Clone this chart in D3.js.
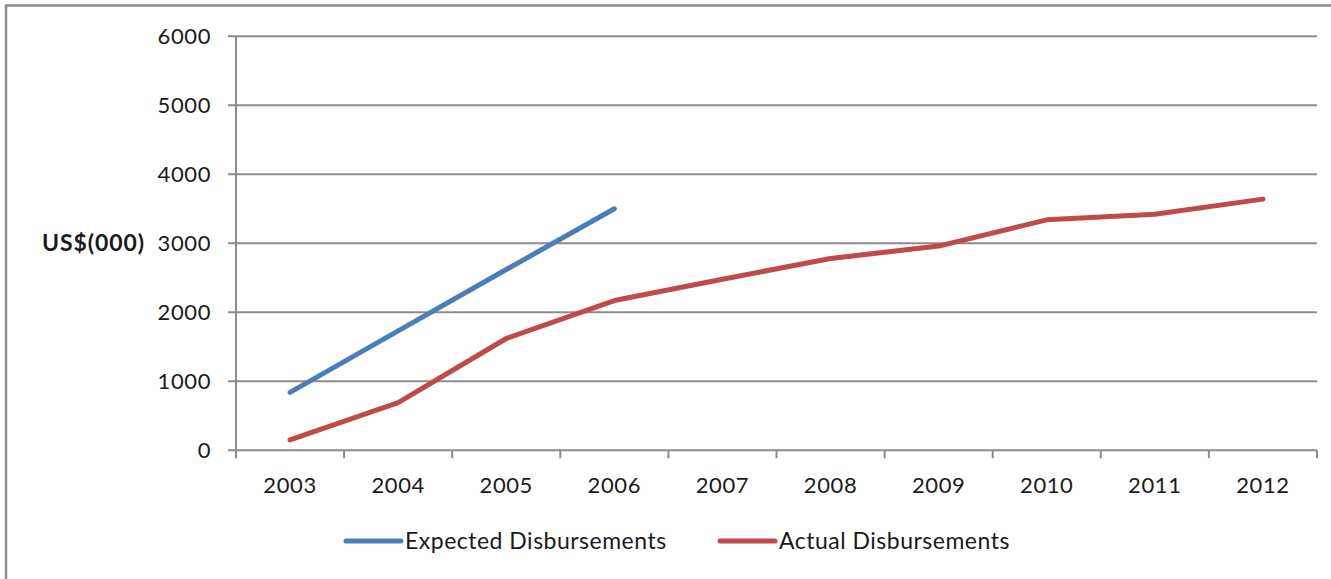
<!DOCTYPE html>
<html>
<head>
<meta charset="utf-8">
<script src="https://cdn.jsdelivr.net/npm/d3@7/dist/d3.min.js"></script>
<style>
html,body{margin:0;padding:0;background:#fff;}
svg{display:block;}
text{font-family:Lato,"Open Sans",sans-serif;fill:#1a1a1a;}
</style>
</head>
<body>
<svg id="chart" width="1331" height="579"></svg>
<script>
const years = ["2003","2004","2005","2006","2007","2008","2009","2010","2011","2012"];
const expectedYears = ["2003","2004","2005","2006"];
const expectedValues = [840, 1730, 2620, 3500];
const actualYears = years;
const actualValues = [150, 690, 1620, 2170, 2480, 2780, 2960, 3340, 3420, 3640];
const yTicks = [0, 1000, 2000, 3000, 4000, 5000, 6000];
const seriesNames = ["Expected Disbursements", "Actual Disbursements"];
const seriesColors = ["#4A7EBB", "#BE4B48"];
const yAxisTitle = "US$(000)";

(function () {
const svg = d3.select("#chart");
const plotLeft = 236, plotRight = 1317, plotTop = 36.3, plotBottom = 450.3;

// outer frame
svg.append("path")
  .attr("d", "M6,579 L6,5.5 L1331,5.5")
  .attr("fill", "none").attr("stroke", "#8c8c8c").attr("stroke-width", 2.5);

const x = d3.scaleBand().domain(years).range([plotLeft, plotRight]).padding(0);
const y = d3.scaleLinear().domain([0, 6000]).range([plotBottom, plotTop]);

// gridlines
svg.append("g").selectAll("line").data(yTicks).join("line")
  .attr("x1", plotLeft - 8).attr("x2", plotRight)
  .attr("y1", d => y(d)).attr("y2", d => y(d))
  .attr("stroke", "#8c8c8c").attr("stroke-width", 2);

// y axis line
svg.append("line").attr("x1", plotLeft).attr("x2", plotLeft).attr("y1", plotTop).attr("y2", plotBottom)
  .attr("stroke", "#8c8c8c").attr("stroke-width", 2);

// y labels
svg.append("g").selectAll("text").data(yTicks).join("text")
  .attr("x", 211).attr("y", d => y(d)).attr("dy", "0.36em")
  .attr("text-anchor", "end").style("font-size", "22px").style("letter-spacing", "0.6px")
  .text(d => d);

// bottom axis ticks
const boundaries = years.map(d => x(d)).concat([plotRight]);
svg.append("g").selectAll("line").data(boundaries).join("line")
  .attr("x1", d => d).attr("x2", d => d).attr("y1", plotBottom).attr("y2", plotBottom + 8)
  .attr("stroke", "#8c8c8c").attr("stroke-width", 2);

svg.append("g").selectAll("text").data(years).join("text")
  .attr("x", d => x(d) + x.bandwidth() / 2).attr("y", 493)
  .attr("text-anchor", "middle").style("font-size", "22px").style("letter-spacing", "0.6px")
  .text(d => d);

// y axis title
svg.append("text").attr("x", 42).attr("y", 251)
  .style("font-size", "23px").style("font-weight", "bold").style("letter-spacing", "0.9px")
  .text(yAxisTitle);

const line = d3.line().x(d => x(d[0]) + x.bandwidth() / 2).y(d => y(d[1]));

const series = [
  d3.zip(expectedYears, expectedValues),
  d3.zip(actualYears, actualValues)
];
series.forEach((s, i) => {
  svg.append("path").datum(s)
    .attr("d", line).attr("fill", "none")
    .attr("stroke", seriesColors[i]).attr("stroke-width", 5)
    .attr("stroke-linecap", "round").attr("stroke-linejoin", "round");
});

// legend
const legendX = [346, 720];
seriesNames.forEach((name, i) => {
  const g = svg.append("g").attr("transform", `translate(${legendX[i]},541)`);
  g.append("line").attr("x1", 0).attr("x2", 55).attr("y1", 0).attr("y2", 0)
    .attr("stroke", seriesColors[i]).attr("stroke-width", 5).attr("stroke-linecap", "round");
  g.append("text").attr("x", 59).attr("y", 0).attr("dy", "0.36em")
    .style("font-size", "23px").style("letter-spacing", "0.5px").text(name);
});
})();
</script>
</body>
</html>
